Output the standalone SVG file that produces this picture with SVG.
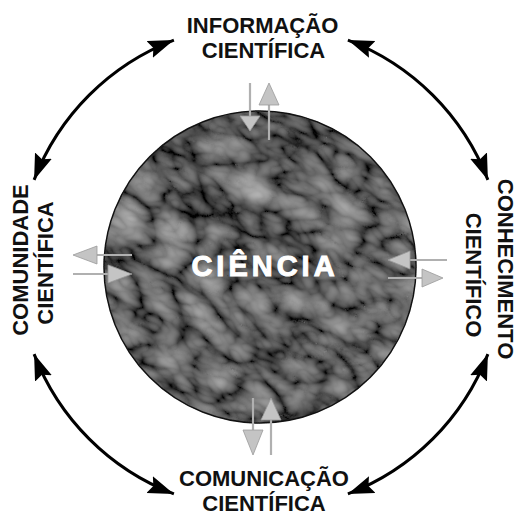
<svg xmlns="http://www.w3.org/2000/svg" width="518" height="518" viewBox="0 0 518 518">
<style>
.lbl{font-family:"Liberation Sans",Arial,sans-serif;font-weight:bold;font-size:22px;fill:#111;text-anchor:middle}
.arc{fill:none;stroke:#000;stroke-width:3;marker-start:url(#ah);marker-end:url(#ah)}
.sa{fill:#c4c4c4;stroke:#9a9a9a;stroke-width:0.8}
.sh{stroke:#b0b0b0;stroke-width:2.2;fill:none}
</style>
<defs>
<marker id="ah" markerUnits="userSpaceOnUse" markerWidth="30" markerHeight="20" refX="26" refY="9" orient="auto-start-reverse">
<path d="M0,0 L26,9 L0,18 L4,9 z" fill="#000"/>
</marker>
<filter id="tex" x="0" y="0" width="100%" height="100%">
<feTurbulence type="turbulence" baseFrequency="0.035 0.02" numOctaves="3" seed="11" result="n"/>
<feColorMatrix in="n" type="matrix" values="0.5 0 0 0 -0.02  0.5 0 0 0 -0.02  0.5 0 0 0 -0.02  0 0 0 0 1" result="g"/>
<feComposite in="g" in2="SourceGraphic" operator="in"/>
</filter>
</defs>
<g id="ciencia">
<g transform="rotate(-65 260 267)"><circle cx="260" cy="267" r="156" fill="#555" filter="url(#tex)"/></g>
<circle cx="260" cy="267" r="156" fill="none" stroke="#111" stroke-width="1.5"/>
<text x="265" y="276" font-family="'Liberation Sans',Arial,sans-serif" font-weight="bold" font-size="29" fill="#fff" stroke="#fff" stroke-width="1" text-anchor="middle" letter-spacing="4">CIÊNCIA</text>
</g>
<g id="informacao">
<text class="lbl" x="262.5" y="33">INFORMAÇÃO</text>
<text class="lbl" x="263.5" y="58">CIENTÍFICA</text>
</g>
<g id="comunicacao">
<text class="lbl" x="264" y="486">COMUNICAÇÃO</text>
<text class="lbl" x="264" y="511">CIENTÍFICA</text>
</g>
<g id="comunidade">
<text class="lbl" transform="translate(28,260) rotate(-90)">COMUNIDADE</text>
<text class="lbl" transform="translate(53,263) rotate(-90)">CIENTÍFICA</text>
</g>
<g id="conhecimento">
<text class="lbl" transform="translate(498,269) rotate(90)">CONHECIMENTO</text>
<text class="lbl" transform="translate(466,275) rotate(90)">CIENTÍFICO</text>
</g>
<g id="connectors">
<path class="arc" d="M34.1,179.9 A243,243 0 0 1 173.9,40.1"/>
<path class="arc" d="M347.9,40.1 A243,243 0 0 1 487.9,179.9"/>
<path class="arc" d="M487.9,354.1 A243,243 0 0 1 347.9,493.9"/>
<path class="arc" d="M173.9,493.9 A243,243 0 0 1 34.1,354.1"/>
<g id="exchange-top">
<line class="sh" x1="250" y1="83" x2="250" y2="117"/>
<polygon class="sa" points="240,116 260,116 250,131"/>
<line class="sh" x1="269" y1="104" x2="269" y2="140"/>
<polygon class="sa" points="269,83 259,105 279,105"/>
</g>
<g id="exchange-bottom">
<line class="sh" x1="253" y1="398" x2="253" y2="431"/>
<polygon class="sa" points="243,430 263,430 253,455"/>
<line class="sh" x1="271" y1="419" x2="271" y2="455"/>
<polygon class="sa" points="271,398 261,420 281,420"/>
</g>
<g id="exchange-left">
<line class="sh" x1="96" y1="255" x2="132" y2="255"/>
<polygon class="sa" points="73,255 97,246 97,264"/>
<line class="sh" x1="73" y1="274" x2="109" y2="274"/>
<polygon class="sa" points="108,265 108,283 132,274"/>
</g>
<g id="exchange-right">
<line class="sh" x1="409" y1="260" x2="447" y2="260"/>
<polygon class="sa" points="388,260 410,251 410,269"/>
<line class="sh" x1="388" y1="278" x2="423" y2="278"/>
<polygon class="sa" points="422,269 422,287 443,278"/>
</g>
</g>
</svg>
